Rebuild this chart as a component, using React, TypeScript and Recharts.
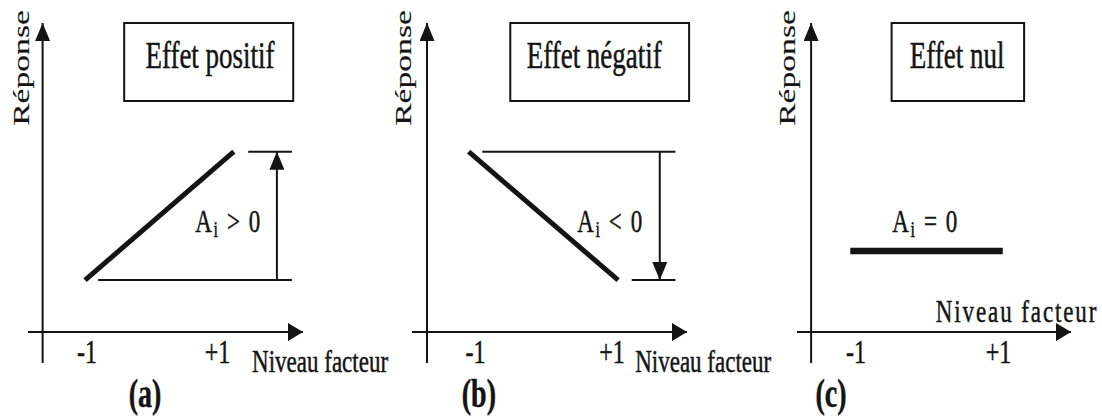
import { LineChart, Line, XAxis, YAxis, ReferenceLine, ReferenceArea, ReferenceDot } from 'recharts'

const W = 1102
const H = 418
const STRETCH = 1.4
const INK = '#141414'
const FONT = '"Liberation Serif", "Times New Roman", serif'

// shared axis values
const TICKS = [-1, 1]
const TICK_LABELS = ['-1', '+1']
const Y_DOMAIN = [-1.1, 11]
const LOW = 1.85
const HIGH = 6.42

// (a) effet positif
const lineA = [{ x: -1.03, y: LOW }, { x: 1.25, y: HIGH }]
const guidesA = [
  [{ x: -0.83, y: LOW }, { x: 2.14, y: LOW }],
  [{ x: 1.47, y: HIGH }, { x: 2.14, y: HIGH }],
]
const arrowA = [{ x: 1.91, y: LOW }, { x: 1.91, y: HIGH }]

// (b) effet négatif
const lineB = [{ x: -1.1, y: HIGH }, { x: 1.09, y: LOW }]
const guidesB = [
  [{ x: -0.9, y: HIGH }, { x: 1.93, y: HIGH }],
  [{ x: 1.29, y: LOW }, { x: 1.93, y: LOW }],
]
const arrowB = [{ x: 1.7, y: HIGH }, { x: 1.7, y: LOW }]

// (c) effet nul
const lineC = [{ x: -1.08, y: 2.89 }, { x: 1.06, y: 2.89 }]

type Pt = { x: number; y: number }

const PANELS = [
  {
    id: 'a', left: 28, right: 303, xDomain: [-1.904, 2.31], yAxisX: -1.68,
    line: lineA, lineWidth: 5, guides: guidesA, arrow: arrowA as Pt[] | null,
    box: [-0.43, 2.16], title: 'Effet positif', titleX: 0.885,
    sign: ' > 0', signX: 0.66, signY: 3.56,
    nivX: 1.53, nivY: -1.42, nivSpacing: 0, tag: '(a)', tagX: -0.11, repX: -1.89,
  },
  {
    id: 'b', left: 412, right: 687, xDomain: [-1.93, 2.099], yAxisX: -1.71,
    line: lineB, lineWidth: 5, guides: guidesB, arrow: arrowB as Pt[] | null,
    box: [-0.49, 2.13], title: 'Effet négatif', titleX: 0.74,
    sign: ' < 0', signX: 0.49, signY: 3.56,
    nivX: 1.34, nivY: -1.42, nivSpacing: 0, tag: '(b)', tagX: -0.95, repX: -1.95,
  },
  {
    id: 'c', left: 797, right: 1071, xDomain: [-1.828, 2.018], yAxisX: -1.63,
    line: lineC, lineWidth: 6.5, guides: [] as Pt[][], arrow: null as Pt[] | null,
    box: [-0.5, 1.36], title: 'Effet nul', titleX: 0.42,
    sign: ' = 0', signX: -0.49, signY: 3.56,
    nivX: 0.12, nivY: 0.36, nivSpacing: 1.9, tag: '(c)', tagX: -1.35, repX: -1.86,
  },
]

function StretchText({ x, y, size, anchor = 'start', weight = 'normal', rotate = false, spacing = 0, outline = 0.35, children }: any) {
  const t = rotate
    ? `translate(${x} ${y}) rotate(-90) scale(${STRETCH} 1)`
    : `translate(${x} ${y}) scale(1 ${STRETCH})`
  return (
    <text
      transform={t}
      x={0}
      y={0}
      fontFamily={FONT}
      fontSize={size}
      textAnchor={anchor}
      fontWeight={weight}
      letterSpacing={spacing}
      fill={INK}
      stroke={INK}
      strokeWidth={outline}
    >
      {children}
    </text>
  )
}

const seg = (id: string, width: number, marker?: string) => (p: any) => (
  <line
    x1={p.x1}
    y1={p.y1}
    x2={p.x2}
    y2={p.y2}
    stroke={INK}
    strokeWidth={width}
    markerEnd={marker ? `url(#${marker}-${id})` : undefined}
  />
)

function Panel({ cfg }: { cfg: (typeof PANELS)[number] }) {
  const { id } = cfg
  const [x0, x1] = cfg.xDomain
  return (
    <LineChart
      width={W}
      height={H}
      margin={{ top: 23, bottom: H - 363, left: cfg.left, right: W - cfg.right }}
      style={{ position: 'absolute', left: 0, top: 0 }}
    >
      <defs>
        <marker id={`ah-${id}`} viewBox="0 0 15 18" refX={15} refY={9} markerWidth={15} markerHeight={18} markerUnits="userSpaceOnUse" orient="auto">
          <path d="M0,0 L15,9 L0,18 z" fill={INK} />
        </marker>
        <marker id={`av-${id}`} viewBox="0 0 18 15" refX={18} refY={7.5} markerWidth={18} markerHeight={15} markerUnits="userSpaceOnUse" orient="auto">
          <path d="M0,0 L18,7.5 L0,15 z" fill={INK} />
        </marker>
      </defs>
      <XAxis type="number" dataKey="x" domain={cfg.xDomain} allowDataOverflow hide />
      <YAxis type="number" hide domain={Y_DOMAIN} allowDataOverflow />

      {/* axes */}
      <ReferenceLine
        segment={[{ x: x0, y: 0 }, { x: x1, y: 0 }]}
        ifOverflow="visible"
        shape={seg(id, 2, 'ah')}
      />
      <ReferenceLine
        segment={[{ x: cfg.yAxisX, y: Y_DOMAIN[0] }, { x: cfg.yAxisX, y: Y_DOMAIN[1] }]}
        ifOverflow="visible"
        shape={seg(id, 2, 'av')}
      />
      {TICKS.map((t, i) => (
        <ReferenceDot
          key={`t${t}`}
          x={t}
          y={Y_DOMAIN[0]}
          r={0}
          ifOverflow="visible"
          shape={(p: any) => (
            <StretchText x={p.cx} y={p.cy} size={24} anchor="middle">
              {TICK_LABELS[i]}
            </StretchText>
          )}
        />
      ))}

      {/* title box */}
      <ReferenceArea
        x1={cfg.box[0]}
        x2={cfg.box[1]}
        y1={8.22}
        y2={11}
        ifOverflow="visible"
        fill="#fff"
        fillOpacity={1}
        stroke={INK}
        strokeWidth={2}
      />
      <ReferenceDot
        x={cfg.titleX}
        y={9.4}
        r={0}
        ifOverflow="visible"
        shape={(p: any) => (
          <StretchText x={p.cx} y={p.cy} size={27} anchor="middle">
            {cfg.title}
          </StretchText>
        )}
      />

      {/* guides + amplitude arrow */}
      {cfg.guides.map((g, i) => (
        <ReferenceLine key={`g${i}`} segment={g} ifOverflow="visible" shape={seg(id, 2)} />
      ))}
      {cfg.arrow && (
        <ReferenceLine segment={cfg.arrow} ifOverflow="visible" shape={seg(id, 2, 'av')} />
      )}

      <Line
        data={cfg.line}
        dataKey="y"
        stroke={INK}
        strokeWidth={cfg.lineWidth}
        dot={false}
        isAnimationActive={false}
      />

      {/* texts */}
      <ReferenceDot
        x={cfg.signX}
        y={cfg.signY}
        r={0}
        ifOverflow="visible"
        shape={(p: any) => (
          <StretchText x={p.cx} y={p.cy} size={23} spacing={1.6}>
            <tspan>A</tspan>
            <tspan fontSize={16} dy={3.5}>i</tspan>
            <tspan dy={-3.5}>{cfg.sign}</tspan>
          </StretchText>
        )}
      />
      <ReferenceDot
        x={cfg.nivX}
        y={cfg.nivY}
        r={0}
        ifOverflow="visible"
        shape={(p: any) => (
          <StretchText x={p.cx} y={p.cy} size={23} spacing={cfg.nivSpacing}>
            Niveau facteur
          </StretchText>
        )}
      />
      <ReferenceDot
        x={cfg.tagX}
        y={-2.67}
        r={0}
        ifOverflow="visible"
        shape={(p: any) => (
          <StretchText x={p.cx} y={p.cy} size={28} anchor="middle" weight="bold">
            {cfg.tag}
          </StretchText>
        )}
      />
      <ReferenceDot
        x={cfg.repX}
        y={9.4}
        r={0}
        ifOverflow="visible"
        shape={(p: any) => (
          <StretchText x={p.cx} y={p.cy} size={24} anchor="middle" rotate outline={0.15}>
            Réponse
          </StretchText>
        )}
      />
    </LineChart>
  )
}

export default function App() {
  return (
    <div style={{ position: 'absolute', left: 0, top: 0, width: W, height: H, background: '#fff', overflow: 'hidden' }}>
      {PANELS.map((p) => (
        <Panel key={p.id} cfg={p} />
      ))}
    </div>
  )
}
